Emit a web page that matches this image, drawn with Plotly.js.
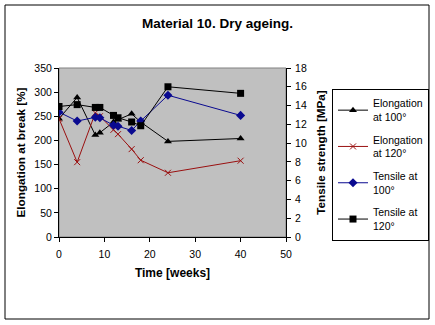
<!DOCTYPE html>
<html>
<head>
<meta charset="utf-8">
<script src="https://cdn.plot.ly/plotly-3.0.1.min.js"></script>
<style>html,body{margin:0;padding:0;background:#fff;}#chart{width:435px;height:325px;}</style>
</head>
<body>
<div id="chart"></div>
<script>
// ---- data ----
const weeks = [0, 4, 8, 9, 12, 13, 16, 18, 24, 40];
const elongation100 = [245, 289, 211, 216, 238, 243, 255, 238, 198, 204];   // %
const elongation120 = [245, 155, 257, 250, 222, 213, 182, 159, 133, 158];   // %
const tensile100 = [13.3, 12.35, 12.75, 12.7, 11.9, 11.8, 11.35, 12.35, 15.1, 12.95]; // MPa
const tensile120 = [13.9, 14.1, 13.8, 13.8, 12.95, 12.7, 12.25, 11.85, 16.0, 15.3];   // MPa
const seriesNames = ["Elongation<br>at 100°", "Elongation<br>at 120°", "Tensile at<br>100°", "Tensile at<br>120°"];
const xTicks = [0, 10, 20, 30, 40, 50];
const yTicks = [0, 50, 100, 150, 200, 250, 300, 350];
const y2Ticks = [0, 2, 4, 6, 8, 10, 12, 14, 16, 18];

const FONT = "Arial, 'Liberation Sans', sans-serif";
const ML = 59, MR = 149, MT = 68, MB = 88, W = 435, H = 325;
const PW = W - ML - MR, PH = H - MT - MB;
const px = v => (v - ML) / PW;       // pixel x -> paper x
const py = v => (H - MB - v) / PH;   // pixel y -> paper y

const traces = [
  {x: weeks, y: elongation100, name: seriesNames[0], yaxis: 'y', legendgroup: 'a',
   mode: 'lines+markers', line: {color: '#000000', width: 1},
   marker: {symbol: 'triangle-up', size: 7, color: '#000000'}},
  {x: weeks, y: elongation120, name: seriesNames[1], yaxis: 'y', legendgroup: 'b',
   mode: 'lines+markers', line: {color: '#9a1010', width: 1},
   marker: {symbol: 'x-thin', size: 6, color: '#9a1010', line: {color: '#9a1010', width: 1}}},
  {x: weeks, y: tensile100, name: seriesNames[2], yaxis: 'y2', legendgroup: 'c',
   mode: 'lines+markers', line: {color: '#0a0a90', width: 1},
   marker: {symbol: 'diamond', size: 7, color: '#0a0a90'}},
  {x: weeks, y: tensile120, name: seriesNames[3], yaxis: 'y2', legendgroup: 'd',
   mode: 'lines+markers', line: {color: '#000000', width: 1},
   marker: {symbol: 'square', size: 7, color: '#000000'}}
];

const axisCommon = {
  showgrid: false, zeroline: false, showline: true, linecolor: '#000', linewidth: 1,
  ticks: 'outside', ticklen: 4, tickcolor: '#000', tickwidth: 1,
  tickfont: {family: FONT, size: 10.5, color: '#000'}
};

const layout = {
  width: W, height: H,
  margin: {l: ML, r: MR, t: MT, b: MB, pad: 0, autoexpand: false},
  paper_bgcolor: '#ffffff', plot_bgcolor: '#c0c0c0',
  font: {family: FONT, size: 10.5, color: '#000'},
  title: {text: '<b>Material 10. Dry ageing.</b>', font: {family: FONT, size: 13.5, color: '#000'},
          xref: 'container', x: 0.5, xanchor: 'center', yref: 'container', y: 1 - 23 / H, yanchor: 'middle'},
  xaxis: Object.assign({}, axisCommon, {
    range: [0, 50], tickvals: xTicks, ticktext: xTicks.map(String), ticklabelstandoff: 3,
    title: {text: '<b>Time [weeks]</b>', font: {family: FONT, size: 12, color: '#000'}, standoff: 10}
  }),
  yaxis: Object.assign({}, axisCommon, {
    range: [0, 350], tickvals: yTicks, ticktext: yTicks.map(String),
    title: {text: '<b>Elongation at break [%]</b>', font: {family: FONT, size: 11.7, color: '#000'}, standoff: 6}
  }),
  yaxis2: Object.assign({}, axisCommon, {
    range: [0, 18], tickvals: y2Ticks, ticktext: y2Ticks.map(String), ticklabelstandoff: 2,
    overlaying: 'y', side: 'right', anchor: 'x',
    title: {text: '<b>Tensile strength [MPa]</b>', font: {family: FONT, size: 11.7, color: '#000'}, standoff: 10}
  }),
  showlegend: true,
  legend: {
    x: px(332), y: py(89), xanchor: 'left', yanchor: 'top',
    bgcolor: '#ffffff', bordercolor: '#000', borderwidth: 1,
    font: {family: FONT, size: 10.5, color: '#000'},
    traceorder: 'grouped', tracegroupgap: 6, itemwidth: 30
  },
  shapes: [
    {type: 'rect', xref: 'paper', yref: 'paper', x0: 0, x1: 1, y0: 0, y1: 1,
     line: {color: '#808080', width: 1}, layer: 'below'},
    {type: 'rect', xref: 'paper', yref: 'paper', x0: px(5), x1: px(429), y0: py(319), y1: py(5),
     line: {color: '#000', width: 1}, fillcolor: 'rgba(0,0,0,0)'}
  ]
};

Plotly.newPlot('chart', traces, layout, {staticPlot: true, displayModeBar: false});
</script>
</body>
</html>
